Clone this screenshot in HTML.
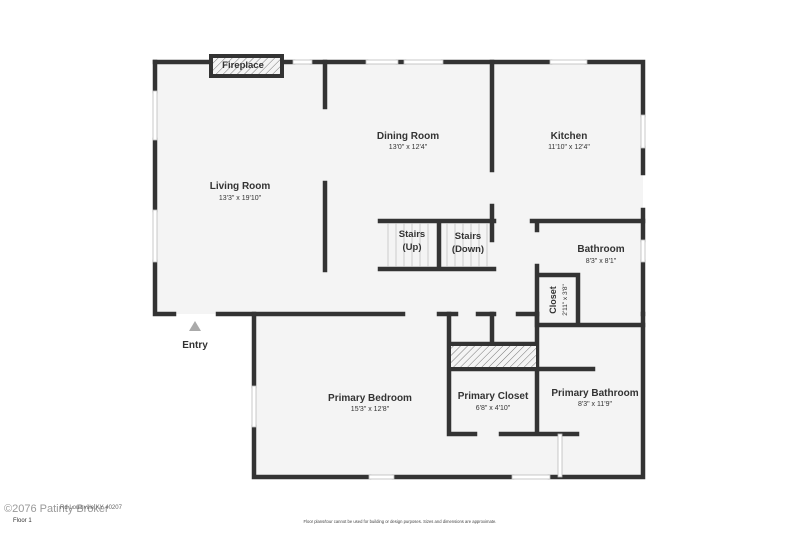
<!DOCTYPE html>
<html><head><style>
html,body{margin:0;padding:0;background:#fff;}
svg{display:block;}
text{font-family:"Liberation Sans",sans-serif;fill:#333;text-anchor:middle;}
.t{font-size:10px;font-weight:bold;}
.d{font-size:7px;}
</style></head><body>
<svg width="800" height="533" viewBox="0 0 800 533" xmlns="http://www.w3.org/2000/svg">
<defs>
<pattern id="h" width="5" height="5" patternUnits="userSpaceOnUse" patternTransform="rotate(45)">
<rect width="5" height="5" fill="#f4f4f4"/><line x1="0" y1="0" x2="0" y2="5" stroke="#777" stroke-width="1"/>
</pattern>
</defs>
<!-- floors -->
<rect x="155" y="62" width="488" height="252" fill="#f4f4f4"/>
<rect x="254" y="314" width="389" height="163" fill="#f4f4f4"/>
<g fill="none" stroke="#333" stroke-width="4.5" stroke-linecap="square">
<!-- outer upper -->
<path d="M155 62 H293 M312 62 H366 M398 62 H404 M443 62 H550 M587 62 H643 V115 M643 148 V173 M643 210 V240 M643 262 V314"/>
<path d="M155 62 V91 M155 140 V210 M155 262 V314 H174 M218 314 H403 M439 314 H456 M478 314 H494 M518 314 H537"/>
<!-- interior upper -->
<path d="M325 62 V107 M325 183 V270 M492 62 V170 M492 206 V221"/>
<path d="M380 221 H494 M380 269 H494 M439 221 V269 M492 221 V240"/>
<path d="M532 221 H643 M537 221 V230 M537 266 V325 M537 275 H578 V325 M537 325 H643"/>
<!-- lower -->
<path d="M254 314 V386 M254 427 V477 H369 M394 477 H512 M550 477 H643 V314"/>
<path d="M449 314 V434 H475 M501 434 H577 M492 314 V343 M449 344 H537 M449 369 H593 M537 314 V434"/>
</g>
<!-- windows -->
<g fill="#fff" stroke="#bbb" stroke-width="0.8">
<rect x="293" y="60" width="19" height="4"/><rect x="366" y="60" width="32" height="4"/><rect x="404" y="60" width="39" height="4"/><rect x="550" y="60" width="37" height="4"/>
<rect x="153" y="91" width="4" height="49"/><rect x="153" y="210" width="4" height="52"/>
<rect x="641" y="115" width="4" height="33"/><rect x="641" y="240" width="4" height="22"/>
<rect x="252" y="386" width="4" height="41"/>
<rect x="369" y="475" width="25" height="4"/><rect x="512" y="475" width="38" height="4"/>
<rect x="558" y="434" width="4" height="43"/>
</g>
<!-- stairs lines -->
<g stroke="#bbb" stroke-width="0.7">
<line x1="388" y1="223" x2="388" y2="267"/><line x1="396" y1="223" x2="396" y2="267"/><line x1="404" y1="223" x2="404" y2="267"/><line x1="412" y1="223" x2="412" y2="267"/><line x1="420" y1="223" x2="420" y2="267"/><line x1="428" y1="223" x2="428" y2="267"/>
<line x1="447" y1="223" x2="447" y2="267"/><line x1="455" y1="223" x2="455" y2="267"/><line x1="463" y1="223" x2="463" y2="267"/><line x1="471" y1="223" x2="471" y2="267"/><line x1="479" y1="223" x2="479" y2="267"/><line x1="487" y1="223" x2="487" y2="267"/>
</g>
<!-- fireplace -->
<rect x="211" y="56" width="71" height="20" fill="url(#h)" stroke="#333" stroke-width="4"/>
<text x="243" y="68" class="t" style="font-size:9.5px">Fireplace</text>
<!-- closet hatch -->
<rect x="451" y="346" width="85" height="21" fill="url(#h)"/>
<!-- labels -->
<text x="240" y="189" class="t">Living Room</text><text x="240" y="200" class="d">13'3" x 19'10"</text>
<text x="408" y="139" class="t">Dining Room</text><text x="408" y="149" class="d">13'0" x 12'4"</text>
<text x="569" y="139" class="t">Kitchen</text><text x="569" y="149" class="d">11'10" x 12'4"</text>
<text x="601" y="252" class="t">Bathroom</text><text x="601" y="263" class="d">8'3" x 8'1"</text>
<text x="412" y="237" class="t" style="font-size:9.5px">Stairs</text><text x="412" y="250" class="t" style="font-size:9.5px">(Up)</text>
<text x="468" y="239" class="t" style="font-size:9.5px">Stairs</text><text x="468" y="252" class="t" style="font-size:9.5px">(Down)</text>
<text transform="translate(556,300) rotate(-90)" class="t" style="font-size:9px">Closet</text>
<text transform="translate(567,300) rotate(-90)" class="d" style="font-size:6.5px">2'11" x 3'8"</text>
<text x="370" y="401" class="t">Primary Bedroom</text><text x="370" y="411" class="d">15'3" x 12'8"</text>
<text x="493" y="399" class="t">Primary Closet</text><text x="493" y="410" class="d">6'8" x 4'10"</text>
<text x="595" y="396" class="t">Primary Bathroom</text><text x="595" y="406" class="d">8'3" x 11'9"</text>
<polygon points="195,321 189,331 201,331" fill="#aaa"/>
<text x="195" y="348" class="t">Entry</text>
<!-- footer -->
<text x="4" y="512" style="text-anchor:start;font-size:11px;fill:#999">©2076 Patinty Broker</text>
<text x="60" y="509" style="text-anchor:start;font-size:6px;fill:#666">Rd Louisville KY 40207</text>
<text x="13" y="522" style="text-anchor:start;font-size:6px;fill:#333">Floor 1</text>
<text x="400" y="523" style="font-size:4.2px;fill:#444">Floor plans/tour cannot be used for building or design purposes. Sizes and dimensions are approximate.</text>
</svg>
</body></html>
